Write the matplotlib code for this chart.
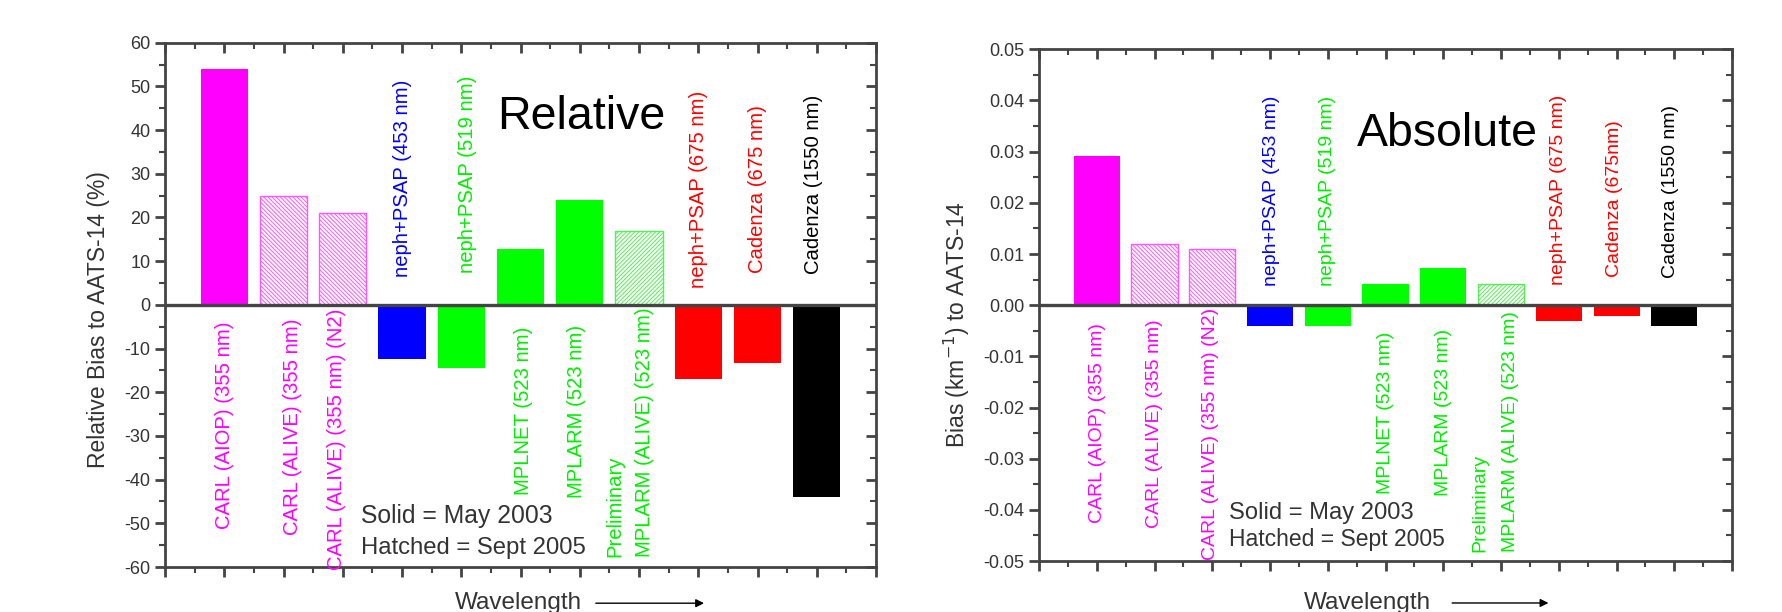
import matplotlib
matplotlib.use("Agg")
import matplotlib.pyplot as plt
from matplotlib.ticker import MultipleLocator, FuncFormatter

plt.rcParams['font.family'] = ['Liberation Sans', 'DejaVu Sans']
plt.rcParams['hatch.linewidth'] = 0.7

# --- data ---
positions = [1, 2, 3, 4, 5, 6, 7, 8, 9, 10, 11]
relative_bias = [54, 24.9, 21, -12.5, -14.5, 12.7, 23.9, 16.9, -16.9, -13.3, -44]
absolute_bias = [0.0292, 0.0119, 0.0109, -0.0040, -0.0040, 0.0042, 0.0073, 0.0042,
                 -0.0031, -0.0022, -0.0040]
bar_colors = ['#ff00ff', '#ff55ff', '#ff55ff', '#0000ff', '#00ff00', '#00ff00',
              '#00ff00', '#55ee55', '#ff0000', '#ff0000', '#000000']
hatched = [False, True, True, False, False, False, False, True, False, False, False]
hatch_style = ['', '\\' * 8, '\\' * 8, '', '', '', '', '/' * 8, '', '', '']
label_colors = ['#ff00ff', '#ff00ff', '#ff00ff', '#0000ff', '#00ee00', '#00ee00',
                '#00ee00', '#00ee00', '#ff0000', '#ff0000', '#000000']

labels_rel = ['CARL (AIOP) (355 nm)', 'CARL (ALIVE) (355 nm)', 'CARL (ALIVE) (355 nm) (N2)',
              'neph+PSAP (453 nm)', 'neph+PSAP (519 nm)', 'MPLNET (523 nm)',
              'MPLARM (523 nm)', 'MPLARM (ALIVE) (523 nm)', 'neph+PSAP (675 nm)',
              'Cadenza (675 nm)', 'Cadenza (1550 nm)']
labels_abs = labels_rel[:9] + ['Cadenza (675nm)', 'Cadenza (1550 nm)']

# text anchor positions (data units) for the rotated category labels
lab_x_rel = [1.0, 2.15, 2.9, 4.0, 5.1, 6.05, 6.95, 8.1, 9.0, 10.0, 10.95]
lab_y_rel = [-3.7, -3.1, -0.9, 6.3, 7.4, -4.9, -4.5, -57.8, 3.8, 7.4, 7.1]
lab_x_abs = [1.02, 1.99, 2.96, 4.03, 5.0, 6.0, 7.0, 8.16, 8.99, 9.96, 10.93]
lab_y_abs = [-0.0036, -0.0028, -0.0005, 0.0037, 0.0037, -0.0051, -0.0047, -0.0482,
             0.0040, 0.0056, 0.0054]

AXCOL = '#444444'
TXTCOL = '#333333'


def draw_panel(ax, values, labels, lab_x, lab_y, ylim, major, minor, ylabel, ylab_xy,
               title, title_xy, note_xy, note_dy, prelim_x, prelim_y, fmt, fs):
    for i, (p, v) in enumerate(zip(positions, values)):
        if hatched[i]:
            ax.bar(p, v, width=0.8, facecolor='white', edgecolor=bar_colors[i],
                   hatch=hatch_style[i], linewidth=1.0, zorder=2)
        else:
            ax.bar(p, v, width=0.8, color=bar_colors[i], linewidth=0, zorder=2)
    ax.axhline(0, color=AXCOL, lw=2.4, zorder=3)

    for i, lab in enumerate(labels):
        # labels of upward bars hang below the zero line, the rest stand above it
        va = 'top' if values[i] > 0 else 'bottom'
        if i == 7:
            va = 'bottom'
        ax.text(lab_x[i], lab_y[i], lab, rotation=90, ha='center', va=va,
                color=label_colors[i], fontsize=14.6 * fs, zorder=4, clip_on=False)
    ax.text(prelim_x, prelim_y, 'Preliminary', rotation=90, ha='center', va='bottom',
            color='#00ee00', fontsize=14.6 * fs, zorder=4)

    ax.text(title_xy[0], title_xy[1], title, fontsize=33.5, color='black', ha='left',
            va='baseline')
    ax.text(note_xy[0], note_xy[1], 'Solid = May 2003', fontsize=17.8 * fs,
            color=TXTCOL, ha='left', va='baseline')
    ax.text(note_xy[0], note_xy[1] + note_dy, 'Hatched = Sept 2005',
            fontsize=17.2 * fs, color=TXTCOL, ha='left', va='baseline')

    ax.set_xlim(0, 12)
    ax.set_ylim(*ylim)
    ax.xaxis.set_major_locator(MultipleLocator(1))
    ax.xaxis.set_minor_locator(MultipleLocator(0.5))
    ax.yaxis.set_major_locator(MultipleLocator(major))
    ax.yaxis.set_minor_locator(MultipleLocator(minor))
    ax.yaxis.set_major_formatter(fmt)
    ax.tick_params(axis='both', which='major', direction='out', length=7, width=2,
                   color=AXCOL, labelsize=13, labelcolor=TXTCOL)
    ax.tick_params(axis='both', which='minor', direction='out', length=4, width=1.5,
                   color=AXCOL)
    ax.tick_params(axis='x', labelbottom=False)
    for s in ax.spines.values():
        s.set_color(AXCOL)
        s.set_linewidth(2)
    ax.set_ylabel(ylabel, fontsize=16.5, color=TXTCOL)
    ax.yaxis.set_label_coords(*ylab_xy)

    # mirrored axes with inward ticks
    top = ax.secondary_xaxis('top')
    top.xaxis.set_major_locator(MultipleLocator(1))
    top.xaxis.set_minor_locator(MultipleLocator(0.5))
    top.tick_params(which='major', direction='in', length=7, width=2, color=AXCOL,
                    labeltop=False)
    top.tick_params(which='minor', direction='in', length=4, width=1.5, color=AXCOL)
    top.spines['top'].set_visible(False)
    right = ax.secondary_yaxis('right')
    right.yaxis.set_major_locator(MultipleLocator(major))
    right.yaxis.set_minor_locator(MultipleLocator(minor))
    right.tick_params(which='major', direction='in', length=7, width=2, color=AXCOL,
                      labelright=False)
    right.tick_params(which='minor', direction='in', length=4, width=1.5, color=AXCOL)
    right.spines['right'].set_visible(False)


def wavelength(ax, x_text, y, x0, x1):
    ax.text(x_text, y, 'Wavelength', transform=ax.transAxes, fontsize=17.5,
            color=TXTCOL, ha='left', va='center', clip_on=False)
    ax.annotate('', xy=(x1, y), xytext=(x0, y), xycoords='axes fraction',
                textcoords='axes fraction',
                arrowprops=dict(arrowstyle='-|>', color='black', lw=1.0,
                                mutation_scale=12))


fig = plt.figure(figsize=(17.82, 6.12), dpi=100)
ax1 = fig.add_axes([0.0926, 0.0735, 0.399, 0.8567])
ax2 = fig.add_axes([0.5831, 0.0833, 0.3889, 0.8361])

draw_panel(ax1, relative_bias, labels_rel, lab_x_rel, lab_y_rel, (-60, 60), 10, 5,
           'Relative Bias to AATS-14 (%)', (-0.077, 0.472), 'Relative', (5.6, 40.2),
           (3.3, -50), -7, 7.6, -57.8, FuncFormatter(lambda v, p: f'{v:.0f}'), 1.0)
draw_panel(ax2, absolute_bias, labels_abs, lab_x_abs, lab_y_abs, (-0.05, 0.05), 0.01,
           0.005, 'Bias (km$^{-1}$) to AATS-14', (-0.097, 0.462), 'Absolute',
           (5.5, 0.0311), (3.28, -0.0418), -0.0053, 7.63, -0.0482,
           FuncFormatter(lambda v, p: f'{abs(v) if abs(v) < 1e-9 else v:.2f}'), 0.96)

wavelength(ax1, 0.408, -0.069, 0.602, 0.762)
wavelength(ax2, 0.382, -0.082, 0.592, 0.739)

fig.savefig('out.png', dpi=100, facecolor='white')
